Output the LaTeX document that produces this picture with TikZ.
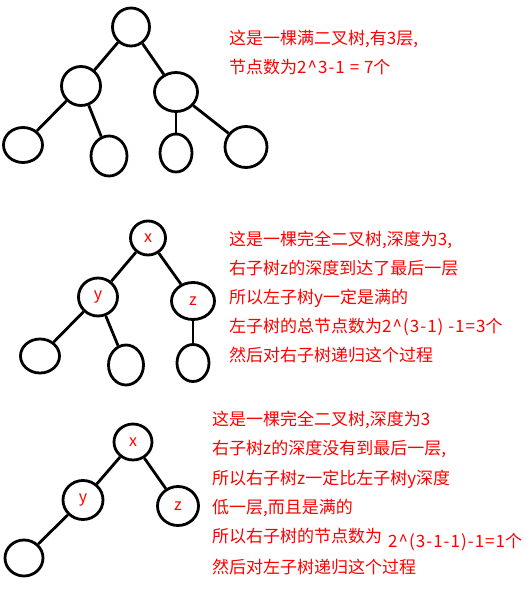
\documentclass[tikz,border=0pt]{standalone}
\usepackage{fontspec}
\setmainfont{Noto Sans CJK SC}
\usetikzlibrary{shapes.geometric}
\newcommand\lat[1]{{\addfontfeature{LetterSpace=6}#1}}
\begin{document}
\begin{tikzpicture}[x=1pt,y=-1pt,
    vertex/.style={ellipse,draw,line width=2.8pt,inner sep=0pt,text=red,
      font=\fontsize{16}{16}\selectfont},
    note/.style={anchor=base west,inner sep=0pt,text=red,
      font=\fontsize{17}{17}\selectfont}]
  \useasboundingbox (0,0) rectangle (526,605);
  % full tree
  \draw
    (131,27) node[vertex,minimum width=37,minimum height=38] (a0){}
    (81,86) node[vertex,minimum width=39,minimum height=39] (a1){}
    (176,92) node[vertex,minimum width=43,minimum height=39] (a2){}
    (23,145) node[vertex,minimum width=39,minimum height=35] (a3){}
    (109,156) node[vertex,minimum width=36,minimum height=40] (a4){}
    (176,153) node[vertex,minimum width=32,minimum height=38] (a5){}
    (246,147) node[vertex,minimum width=42,minimum height=41] (a6){};
  % complete tree, right subtree full depth
  \draw
    (148,238) node[vertex,minimum width=35,minimum height=34] (b0){x}
    (98,297) node[vertex,minimum width=39,minimum height=38] (b1){y}
    (193,301) node[vertex,minimum width=43,minimum height=37] (b2){z}
    (40,356) node[vertex,minimum width=39,minimum height=34] (b3){}
    (126,365) node[vertex,minimum width=35,minimum height=40] (b4){}
    (193,363) node[vertex,minimum width=32,minimum height=37] (b5){};
  % complete tree, right subtree one level lower
  \draw
    (133,442) node[vertex,minimum width=38,minimum height=36] (c0){x}
    (83,500) node[vertex,minimum width=40,minimum height=39] (c1){y}
    (178,506) node[vertex,minimum width=41,minimum height=39] (c2){z}
    (24,558) node[vertex,minimum width=38,minimum height=36] (c3){};
  \begin{scope}[-,line width=2.8pt]
    \draw (a0) to (a1);
    \draw (a0) to (a2);
    \draw (a1) to (a3);
    \draw (a1) to (a4);
    \draw (a2) to (a5);
    \draw (a2) to (a6);
    \draw (b0) to (b1);
    \draw (b0) to (b2);
    \draw (b1) to (b3);
    \draw (b1) to (b4);
    \draw (b2) to (b5);
    \draw (c0) to (c1);
    \draw (c0) to (c2);
    \draw (c1) to (c3);
  \end{scope}
  % notes
  \node[note] (t1) at (229,44) {这是一棵满二叉树,有3层,};
  \node[note] (t2) at (229,73) {节点数为\lat{2\textasciicircum3-1 = 7}个};
  \node[note] (u1) at (229,245) {这是一棵完全二叉树,深度为3,};
  \node[note] (u2) at (229,274) {右子树z的深度到达了最后一层};
  \node[note] (u3) at (229,303) {所以左子树y一定是满的};
  \node[note] (u4) at (229,332) {左子树的总节点数为\lat{2\textasciicircum(3-1) -1=3}个};
  \node[note] (u5) at (229,361) {然后对右子树递归这个过程};
  \node[note] (v1) at (212,425) {这是一棵完全二叉树,深度为3};
  \node[note] (v2) at (212,454) {右子树z的深度没有到最后一层,};
  \node[note] (v3) at (212,484) {所以右子树z一定比左子树y深度};
  \node[note] (v4) at (212,513) {低一层,而且是满的};
  \node[note] (v5) at (212,542) {所以右子树的节点数为};
  \node[note] (v6) at (388,547) {\lat{2\textasciicircum(3-1-1)-1=1}个};
  \node[note] (v7) at (212,573) {然后对左子树递归这个过程};
\end{tikzpicture}
\end{document}
